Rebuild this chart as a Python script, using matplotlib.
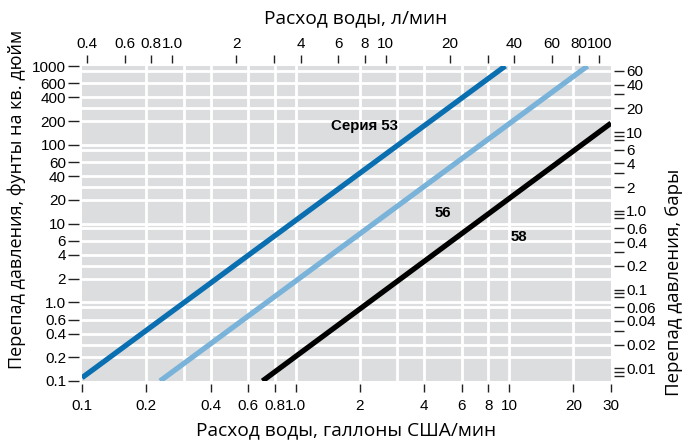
import matplotlib
matplotlib.use("Agg")
import matplotlib.pyplot as plt
from matplotlib.ticker import FixedLocator, NullLocator, FixedFormatter

# ---- data ----
series_names = ["Серия 53", "56", "58"]
s53_gpm = [0.1, 9.6]
s53_psi = [0.11, 1000]
s56_gpm = [0.232, 23.3]
s56_psi = [0.1, 1000]
s58_gpm = [0.70, 30]
s58_psi = [0.1, 188]
label_gpm = [2.1, 4.9, 11.1]
label_psi = [173, 13.7, 6.7]

x_ticks = [0.1, 0.2, 0.4, 0.6, 0.8, 1.0, 2, 4, 6, 8, 10, 20, 30]
x_ticklabels = ["0.1", "0.2", "0.4", "0.6", "0.8", "1.0", "2", "4", "6", "8", "10", "20", "30"]
x_grid = [0.2, 0.3, 0.4, 0.6, 0.8, 1.0, 2, 3, 4, 6, 8, 10, 20]
y_ticks = [0.1, 0.2, 0.4, 0.6, 1.0, 2, 4, 6, 10, 20, 40, 60, 100, 200, 400, 600, 1000]
y_ticklabels = ["0.1", "0.2", "0.4", "0.6", "1.0", "2", "4", "6", "10", "20", "40", "60", "100", "200", "400", "600", "1000"]
top_ticks = [0.4, 0.6, 0.8, 1.0, 2, 3, 4, 6, 8, 10, 20, 30, 40, 60, 80, 100]
top_ticklabels = ["0.4", "0.6", "0.8", "1.0", "2", "", "4", "6", "8", "10", "20", "", "40", "60", "80", "100"]
bar_ticks = [0.01, 0.02, 0.04, 0.06, 0.1, 0.2, 0.4, 0.6, 1.0, 2, 4, 6, 10, 20, 40, 60]
bar_ticklabels = ["0.01", "0.02", "0.04", "0.06", "0.1", "0.2", "0.4", "0.6", "1.0", "2", "4", "6", "10", "20", "40", "60"]
bar_minor = [0.008, 0.009, 0.03, 0.08, 0.09, 0.3, 0.8, 0.9, 3, 8, 9, 30]
bar_grid = [0.02, 0.06, 0.2, 0.6, 2, 6, 20, 60]

PSI_PER_BAR = 14.5038
LPM_PER_GPM = 3.78541

colors = ["#0a6fb0", "#7ab3da", "#000000"]
bg = "#dcdddf"

plt.rcParams['font.family'] = ['Liberation Sans', 'DejaVu Sans']
title_font = ['Open Sans', 'DejaVu Sans']
TICK_FS = 11

fig = plt.figure(figsize=(6.87, 4.43), dpi=100)
ax = fig.add_axes([82/687, (443-381)/443, 529/687, 315/443])
ax.set_facecolor(bg)
ax.set_xscale('log')
ax.set_yscale('log')
xlim = (0.1, 30)
ylim = (0.1, 1000)
ax.set_xlim(*xlim)
ax.set_ylim(*ylim)

for g in x_grid:
    ax.axvline(g, color='white', lw=2.0, zorder=1)
for p in y_ticks[1:-1]:
    ax.axhline(p, color='white', lw=2.0, zorder=1)
for b in bar_grid:
    ax.axhline(b * PSI_PER_BAR, color='white', lw=2.0, zorder=1)

for xs, ys, c in zip([s53_gpm, s56_gpm, s58_gpm], [s53_psi, s56_psi, s58_psi], colors):
    ax.plot(xs, ys, color=c, lw=3.8, solid_capstyle='butt', zorder=3)

for name, gx, py in zip(series_names, label_gpm, label_psi):
    ax.text(gx, py, name, fontsize=10.8, fontweight='bold', ha='center', va='center', zorder=4,
            family=['Liberation Sans', 'DejaVu Sans'])

for s in ax.spines.values():
    s.set_visible(False)

ax.xaxis.set_major_locator(FixedLocator(x_ticks))
ax.xaxis.set_major_formatter(FixedFormatter(x_ticklabels))
ax.xaxis.set_minor_locator(NullLocator())
ax.yaxis.set_major_locator(FixedLocator(y_ticks))
ax.yaxis.set_major_formatter(FixedFormatter(y_ticklabels))
ax.yaxis.set_minor_locator(NullLocator())
ax.tick_params(axis='x', which='major', direction='out', length=6, width=1, pad=5, labelsize=TICK_FS,
               color='#222222')
ax.tick_params(axis='y', which='major', direction='out', length=8, width=1, pad=1.5, labelsize=TICK_FS,
               color='#222222')
ax.spines['left'].set_position(('outward', 2))
ax.spines['bottom'].set_position(('outward', 2))
for t, v in zip(ax.xaxis.get_major_ticks(), x_ticks):
    if v in (0.1, 30):
        t.tick1line.set_visible(False)
for t, v in zip(ax.yaxis.get_major_ticks(), y_ticks):
    if v in (0.1, 1000):
        t.tick1line.set_visible(False)

# top axis: L/min
axt = ax.twiny()
axt.set_xscale('log')
axt.set_xlim(xlim[0] * LPM_PER_GPM, xlim[1] * LPM_PER_GPM)
axt.xaxis.set_major_locator(FixedLocator(top_ticks))
axt.xaxis.set_major_formatter(FixedFormatter(top_ticklabels))
axt.xaxis.set_minor_locator(NullLocator())
axt.tick_params(axis='x', which='major', direction='out', length=6, width=1, pad=3, labelsize=TICK_FS,
                color='#222222')
for s in axt.spines.values():
    s.set_visible(False)
axt.spines['top'].set_position(('outward', 2))

# right axis: bar
axr = ax.twinx()
axr.set_yscale('log')
axr.set_ylim(ylim[0] / PSI_PER_BAR, ylim[1] / PSI_PER_BAR)
axr.yaxis.set_major_locator(FixedLocator(bar_ticks))
axr.yaxis.set_major_formatter(FixedFormatter(bar_ticklabels))
axr.yaxis.set_minor_locator(FixedLocator(bar_minor))
axr.tick_params(axis='y', which='major', direction='out', length=7, width=1, pad=2, labelsize=TICK_FS,
                color='#222222')
axr.tick_params(axis='y', which='minor', direction='out', length=7, width=1, color='#222222')
for s in axr.spines.values():
    s.set_visible(False)
axr.spines['right'].set_position(('outward', 2))

fig.text(356/687, 1 - 18/443, "Расход воды, л/мин", ha='center', va='center', fontsize=13.8, family=title_font)
fig.text(346/687, 1 - 430/443, "Расход воды, галлоны США/мин", ha='center', va='center', fontsize=13.8, family=title_font)
fig.text(17/687, 1 - 199/443, "Перепад давления, фунты на кв. дюйм", ha='center', va='center', rotation=90,
         fontsize=13, family=title_font)
fig.text(674/687, 1 - 282/443, "Перепад давления, бары", ha='center', va='center', rotation=90,
         fontsize=13.4, family=title_font)

fig.savefig("out.png", dpi=100)
